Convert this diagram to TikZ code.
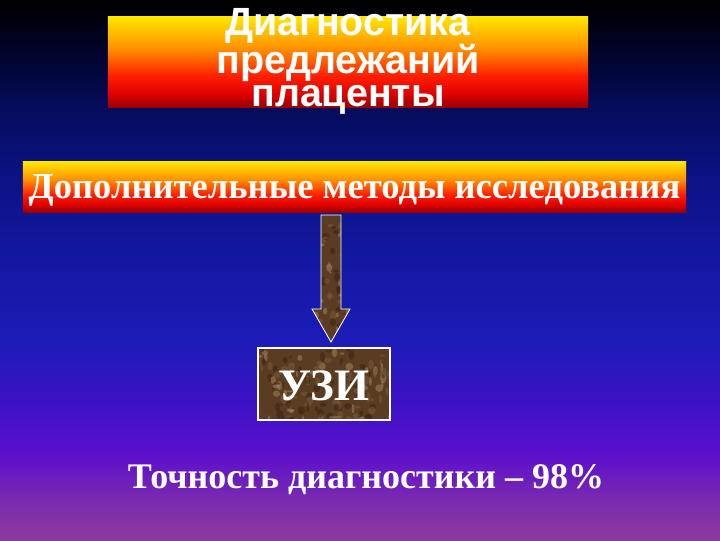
\documentclass[tikz,border=0pt]{standalone}
\usepackage{fontspec}
\setmainfont{Liberation Serif}
\newfontfamily\headfont{Liberation Sans}
\usetikzlibrary{positioning,calc}

\definecolor{bgpurple}{HTML}{8C3C9C}
\definecolor{bgviolet}{HTML}{7A2AB0}
\definecolor{bglilac}{HTML}{5C10CC}
\definecolor{bgindigo}{HTML}{3A12C4}
\definecolor{bgblue}{HTML}{1C1CB8}
\definecolor{bgroyal}{HTML}{1218A2}
\definecolor{bgnavy}{HTML}{0A1282}
\definecolor{bgdeep}{HTML}{050B55}
\definecolor{bgnight}{HTML}{010220}
\definecolor{firedark}{HTML}{9A0000}
\definecolor{firecrimson}{HTML}{E00000}
\definecolor{firered}{HTML}{FF2000}
\definecolor{fireorange}{HTML}{FF9000}
\definecolor{fireyellow}{HTML}{FFE600}
\definecolor{marblebase}{HTML}{5A3C22}
\definecolor{marbledark}{HTML}{3A2410}
\definecolor{marblemid}{HTML}{7A5A38}
\definecolor{marblelight}{HTML}{A08462}

% slide background, dark at the top
\pgfdeclareverticalshading{slidebg}{100bp}{color(0bp)=(bgpurple); color(25bp)=(bgpurple);
  color(28.7bp)=(bgviolet); color(32.9bp)=(bglilac); color(38bp)=(bgindigo);
  color(43.5bp)=(bgblue); color(51bp)=(bgroyal); color(59.3bp)=(bgnavy);
  color(65.7bp)=(bgdeep); color(71.3bp)=(bgnight); color(75bp)=(black); color(100bp)=(black)}
% yellow-red bars
\pgfdeclareverticalshading{firebar}{100bp}{color(0bp)=(firedark); color(25bp)=(firedark);
  color(32.5bp)=(firecrimson); color(42.5bp)=(firered); color(57.5bp)=(fireorange);
  color(75bp)=(fireyellow); color(100bp)=(fireyellow)}

\pgfmathdeclarerandomlist{grainlist}{{marbledark}{marblemid}{marblelight}{marbledark}{marblemid}}
\newcommand\marblegrain{%
  \foreach \k in {1,...,260}{%
    \pgfmathrandomitem\grain{grainlist}%
    \fill[color=\grain, opacity=0.55]
      ($(path picture bounding box.north west)+({rnd*135},{rnd*130})$)
      ellipse ({1+rnd*3} and {1+rnd*4});
  }}

\tikzset{
  firebox/.style={shade, shading=firebar, inner sep=0pt},
  marblebox/.style={fill=marblebase, draw=white, line width=0.8pt, inner sep=0pt,
    path picture={\marblegrain}},
  headtext/.style={text=white, align=center, font=\headfont\bfseries\fontsize{28}{23}\selectfont},
  bodytext/.style={text=white, font=\bfseries\fontsize{25.6}{30}\selectfont},
}

\begin{document}
\begin{tikzpicture}[x=0.025cm,y=-0.025cm]
  \useasboundingbox (0,0) rectangle (720,540);
  \shade[shading=slidebg] (0,0) rectangle (720,540);

  % title bar
  \node[firebox, minimum width=12cm, minimum height=2.25cm] (titlebar) at (348,62) {};
  \node[headtext, anchor=base] (title) at (348,106) {Диагностика\\предлежаний\\плаценты};

  % methods bar
  \node[firebox, bodytext, font=\bfseries\fontsize{26}{30}\selectfont,
        minimum width=16.575cm, minimum height=1.25cm,
        text height=0.55cm, text depth=0pt] (methods) at (354.5,187)
        {Дополнительные методы исследования};

  % ultrasound box
  \pgfmathsetseed{17}
  \node[marblebox, bodytext, font=\bfseries\fontsize{32}{36}\selectfont,
        minimum width=3.3cm, minimum height=1.8cm,
        text height=0.8cm, text depth=0pt] (uzi) at (324,384) {УЗИ};

  % block arrow
  \coordinate (atop) at (331,215);
  \coordinate (atip) at (331,342);
  \draw[fill=marblebase, draw=white, line width=0.6pt, path picture={\marblegrain}]
    ($(atop)+(-10,0)$) -- ($(atop)+(10,0)$) -- ($(atip)+(10,-33)$) -- ($(atip)+(19,-33)$)
    -- (atip) -- ($(atip)+(-19,-33)$) -- ($(atip)+(-10,-33)$) -- cycle;

  \node[bodytext, anchor=base] (accuracy) at (366,488) {Точность диагностики – 98\%};
\end{tikzpicture}
\end{document}
